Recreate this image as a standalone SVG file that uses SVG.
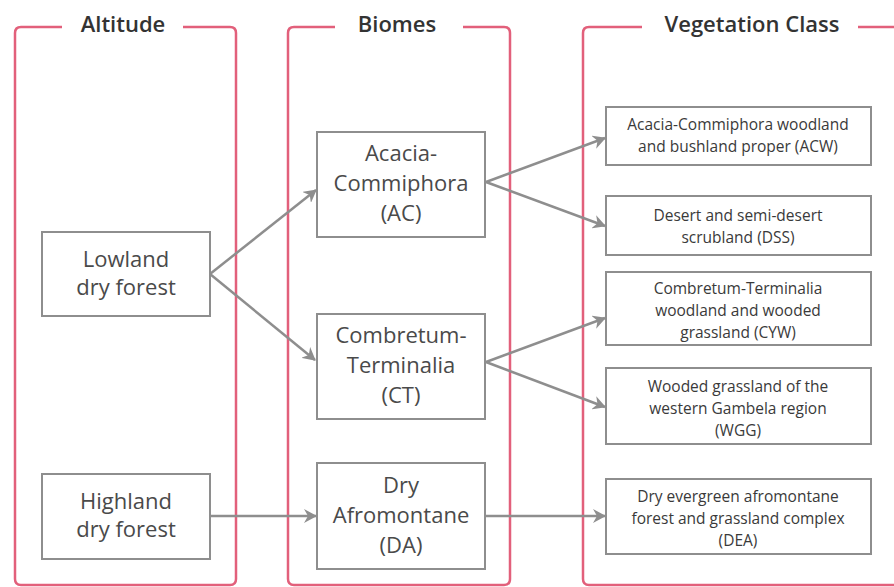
<svg xmlns="http://www.w3.org/2000/svg" width="894" height="587" viewBox="0 0 894 587">
<defs>
<style>
.frame{fill:none;stroke:#e2607b;stroke-width:2.5;stroke-linejoin:round}
.title{font-family:"Open Sans","Noto Sans",sans-serif;font-weight:600;font-size:22px;fill:#333;text-anchor:middle}
.box{fill:#fff;stroke:#8e8e8e;stroke-width:2}
.t1{font-family:"Open Sans","Noto Sans",sans-serif;font-size:22px;fill:#4a4a4a;text-anchor:middle}
.t2{font-family:"Open Sans","Noto Sans",sans-serif;font-size:15.5px;fill:#3a3a3a;text-anchor:middle}
.conn{fill:none;stroke:#8e8e8e;stroke-width:2.5;marker-end:url(#ah)}
</style>
<marker id="ah" viewBox="0 0 13 14" refX="12" refY="7" markerWidth="13" markerHeight="14" markerUnits="userSpaceOnUse" orient="auto">
<path d="M0,0 L13,7 L0,14 L4,7 Z" fill="#8e8e8e"/>
</marker>
</defs>
<rect width="894" height="587" fill="#fff"/>
<g id="frame-altitude">
<path class="frame" d="M62,27 H21 Q15,27 15,33 V579 Q15,585 21,585 H230 Q236,585 236,579 V33 Q236,27 230,27 H183"/>
<text class="title" x="123" y="32">Altitude</text>
</g>
<g id="frame-biomes">
<path class="frame" d="M335,27 H294 Q288,27 288,33 V579 Q288,585 294,585 H504 Q510,585 510,579 V33 Q510,27 504,27 H463"/>
<text class="title" x="397" y="32">Biomes</text>
</g>
<g id="frame-vegetation">
<path class="frame" d="M642,27 H589 Q583,27 583,33 V579 Q583,585 589,585 H894 M858,27 H900"/>
<text class="title" x="752" y="32">Vegetation Class</text>
</g>
<g id="connectors">
<path class="conn" d="M210,274 L316,190"/>
<path class="conn" d="M210,274 L315,360"/>
<path class="conn" d="M210,516 L316,516"/>
<path class="conn" d="M486,182 L605,138"/>
<path class="conn" d="M486,182 L605,226"/>
<path class="conn" d="M486,362 L605,318"/>
<path class="conn" d="M486,362 L605,407"/>
<path class="conn" d="M486,516 L605,516"/>
</g>
<g id="node-lowland">
<rect class="box" x="42" y="232" width="168" height="84"/>
<text class="t1" x="126" y="267">Lowland</text>
<text class="t1" x="126" y="295">dry forest</text>
</g>
<g id="node-highland">
<rect class="box" x="42" y="474" width="168" height="85"/>
<text class="t1" x="126" y="509">Highland</text>
<text class="t1" x="126" y="537">dry forest</text>
</g>
<g id="node-ac">
<rect class="box" x="317" y="132" width="168" height="105"/>
<text class="t1" x="401" y="161">Acacia-</text>
<text class="t1" x="401" y="191">Commiphora</text>
<text class="t1" x="401" y="221">(AC)</text>
</g>
<g id="node-ct">
<rect class="box" x="317" y="314" width="168" height="105"/>
<text class="t1" x="401" y="343">Combretum-</text>
<text class="t1" x="401" y="373">Terminalia</text>
<text class="t1" x="401" y="403">(CT)</text>
</g>
<g id="node-da">
<rect class="box" x="317" y="463" width="168" height="106"/>
<text class="t1" x="401" y="493">Dry</text>
<text class="t1" x="401" y="523">Afromontane</text>
<text class="t1" x="401" y="553">(DA)</text>
</g>
<g id="node-acw">
<rect class="box" x="606" y="107" width="265" height="58"/>
<text class="t2" x="738" y="130">Acacia-Commiphora woodland</text>
<text class="t2" x="738" y="152">and bushland proper (ACW)</text>
</g>
<g id="node-dss">
<rect class="box" x="606" y="196" width="265" height="59"/>
<text class="t2" x="738" y="221">Desert and semi-desert</text>
<text class="t2" x="738" y="243">scrubland (DSS)</text>
</g>
<g id="node-cyw">
<rect class="box" x="606" y="272" width="265" height="73"/>
<text class="t2" x="738" y="294">Combretum-Terminalia</text>
<text class="t2" x="738" y="316">woodland and wooded</text>
<text class="t2" x="738" y="338">grassland (CYW)</text>
</g>
<g id="node-wgg">
<rect class="box" x="606" y="368" width="265" height="76"/>
<text class="t2" x="738" y="392">Wooded grassland of the</text>
<text class="t2" x="738" y="414">western Gambela region</text>
<text class="t2" x="738" y="436">(WGG)</text>
</g>
<g id="node-dea">
<rect class="box" x="606" y="479" width="265" height="75"/>
<text class="t2" x="738" y="502">Dry evergreen afromontane</text>
<text class="t2" x="738" y="524">forest and grassland complex</text>
<text class="t2" x="738" y="546">(DEA)</text>
</g>
</svg>
